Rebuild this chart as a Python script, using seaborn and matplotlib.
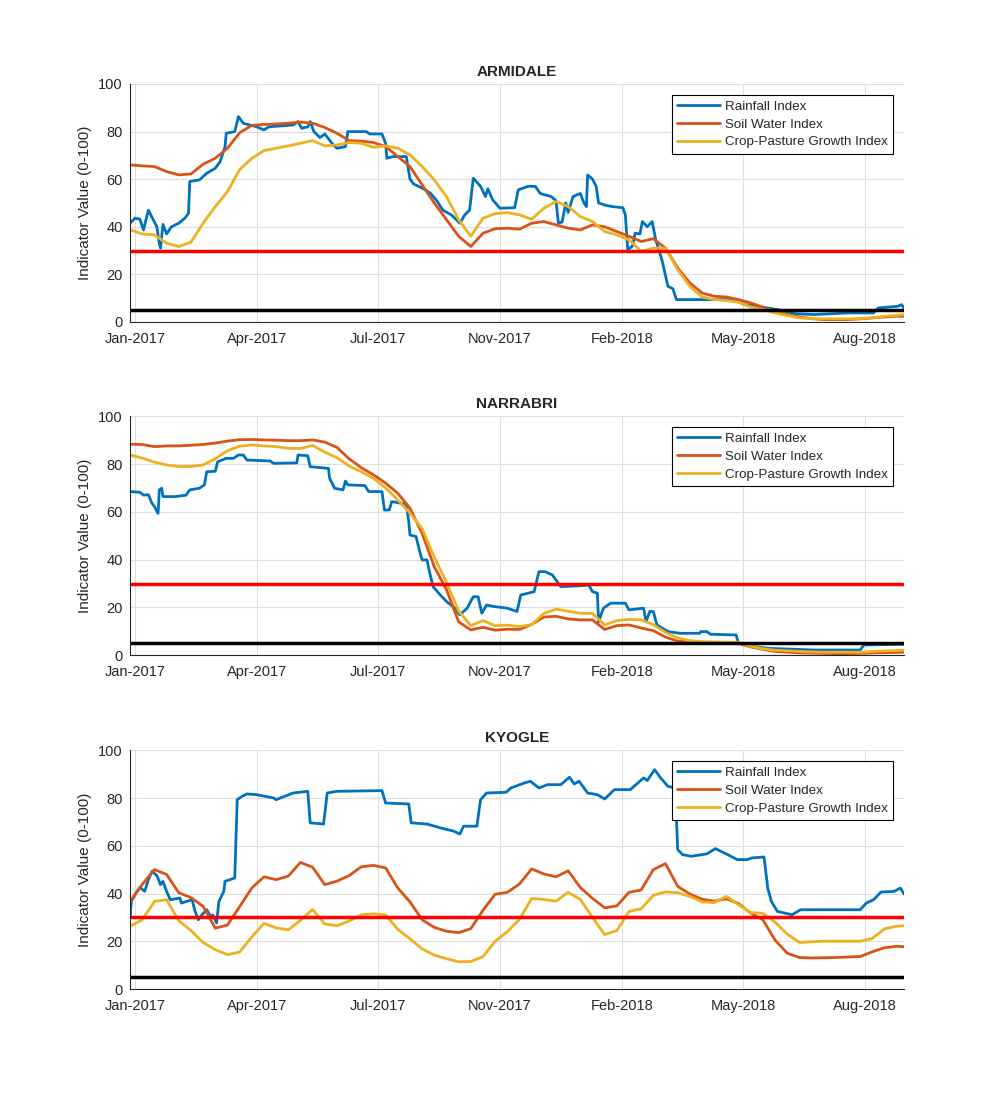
import numpy as np
import pandas as pd
import matplotlib
matplotlib.use("Agg")
import matplotlib.pyplot as plt
import matplotlib.dates as mdates
import seaborn as sns

sns.set_style("white")
plt.rcParams["font.family"] = ["Liberation Sans", "DejaVu Sans"]

start = pd.Timestamp("2017-01-01")

# smooth indices sampled every 10 days (days since 1 Jan 2017), last point = day 636
grid_days = list(np.arange(0, 631, 10)) + [636]

arm_soil = [66, 65.6, 65.3, 63.2, 61.8, 62.2, 66.3, 68.8, 73, 79.5,
            82.6, 83, 83.2, 83.5, 84, 83.5, 81.7, 79.3, 76.2, 76,
            75.4, 73.7, 69.5, 65.3, 57.6, 50, 43, 36, 31.7, 37.3,
            39.2, 39.4, 39, 41.5, 42.2, 40.8, 39.4, 38.7, 40.8, 40,
            38, 36, 33.8, 35, 31, 22.7, 16.4, 12.2, 10.8, 10.5,
            9.4, 8, 6.2, 4.5, 3.1, 2.1, 1.4, 1, 1, 1,
            1.3, 1.7, 2.1, 2.4, 2.4]
arm_grow = [38.7, 37, 36.6, 33.1, 31.7, 33.5, 41.5, 48.5, 54.8, 64,
            68.8, 72, 73, 74, 75.1, 76.2, 74, 74.4, 75.4, 75.1,
            73.4, 74, 73, 70.2, 65.3, 59.7, 52.7, 43, 36, 43.6,
            45.5, 46, 45, 43.2, 47.8, 50.6, 48.5, 44.3, 42.2, 38,
            36.6, 34.5, 29.7, 31, 31, 22, 15, 10.5, 9.4, 9,
            8.3, 6.3, 5.2, 3.8, 2.7, 1.7, 1.4, 1.3, 1.3, 1.3,
            1.4, 1.8, 2.4, 2.8, 3.1]
nar_soil = [88.3, 88.2, 87.3, 87.6, 87.6, 87.9, 88.2, 88.8, 89.6, 90.2,
            90.3, 90.1, 90, 89.8, 89.8, 90.1, 89.2, 87, 82.2, 78.5,
            75.5, 72, 67.8, 61.5, 51, 37, 27.5, 14, 10.6, 11.7,
            10.5, 10.9, 10.8, 12.9, 16, 16.3, 15.2, 14.8, 14.8, 10.8,
            12.4, 12.7, 11.4, 10.3, 7.6, 5.9, 5.6, 5.4, 5.3, 5.2,
            5, 3.5, 2.5, 1.6, 1.3, 1, 0.9, 0.8, 0.7, 0.7,
            0.8, 1, 1.1, 1.2, 1.3]
nar_grow = [83.8, 82.5, 80.8, 79.6, 79, 79, 79.6, 82.2, 85.6, 87.5,
            88, 87.6, 87.3, 86.6, 86.5, 87.8, 85, 82.7, 79.2, 76.8,
            74, 70, 65, 59.5, 53, 41, 30.5, 18.5, 12.4, 14.5,
            12.4, 12.6, 12, 12.8, 17.5, 19.3, 18.4, 17.6, 17.5, 12.7,
            14.5, 15, 14.8, 12.8, 9.5, 7.3, 6.1, 5.7, 5.6, 5.5,
            5.4, 3.8, 2.7, 2.1, 1.9, 1.6, 1.4, 1.3, 1.3, 1.3,
            1.3, 1.6, 1.8, 2, 2.1]
kyo_soil = [36.7, 43.8, 50, 48, 40.3, 38.3, 34.6, 25.5, 26.8, 34.5,
            42.3, 47, 45.8, 47.3, 53, 51, 43.7, 45.2, 47.5, 51.2,
            51.8, 50.7, 42.3, 36.5, 29, 25.8, 24.2, 23.6, 25.3, 33,
            39.7, 40.5, 44, 50.3, 48.2, 47, 49.5, 42.5, 38, 34,
            34.8, 40.5, 41.5, 50, 52.5, 43, 39.8, 37.6, 36.8, 37.8,
            35.8, 31.8, 29, 20.5, 15, 13.2, 13, 13.1, 13.2, 13.4,
            13.6, 15.6, 17.3, 17.9, 17.7]
kyo_grow = [26.3, 29, 36.7, 37.4, 28.6, 24.5, 19.5, 16.5, 14.4, 15.5,
            21.8, 27.5, 25.6, 24.8, 28.8, 33.3, 27.2, 26.5, 28.5, 31.1,
            31.5, 31, 25, 21, 16.8, 14.2, 12.7, 11.4, 11.5, 13.6,
            20, 24, 29.2, 37.9, 37.5, 36.8, 40.5, 37.5, 30, 22.8,
            24.5, 32.5, 33.6, 39.2, 40.7, 40.3, 38.8, 36.5, 36.2, 38.8,
            35.3, 32, 31.7, 28, 23, 19.5, 19.8, 20, 20, 20,
            20, 21.2, 25.2, 26.3, 26.5]

# rainfall index is steppy: breakpoints (day, value)
arm_rain_day = [0, 4, 8, 11, 15, 18, 22, 24, 25, 27, 30, 34, 40, 45, 48, 49, 57, 63, 70, 74,
                78, 79, 86, 89, 93, 104, 110, 114, 134, 138, 141, 146, 148, 151, 156, 160, 166, 170, 177, 179,
                194, 197, 207, 210, 211, 216, 227, 230, 233, 241, 247, 252, 257, 264, 271, 275, 279, 282, 288, 292,
                294, 298, 304, 316, 319, 327, 333, 337, 346, 350, 352, 355, 358, 360, 364, 370, 373, 375, 376, 380,
                383, 385, 391, 396, 405, 407, 409, 413, 415, 419, 421, 425, 429, 432, 437, 442, 446, 449, 480, 496,
                505, 524, 535, 546, 562, 590, 611, 615, 631, 634, 636]
arm_rain = [41.5, 43.6, 43.2, 38.7, 47, 44, 40, 33, 31, 41, 37, 40, 41.5, 43.6, 45.7, 59, 59.7, 62.5, 64.6, 67.4,
            73.7, 79.3, 80, 86.3, 83.5, 82, 80.7, 82, 82.8, 84.2, 81.4, 82, 84.2, 80, 77.5, 79, 75, 73, 73.7, 80,
            80, 79, 79, 75, 68.8, 69.5, 69.5, 60, 58, 56, 54, 51, 47, 45, 41.5, 45, 47, 60.4, 57, 52.7,
            56, 51.3, 47.8, 48, 55.5, 57, 57, 54, 52.7, 51, 41.5, 42, 50, 46, 52.7, 54, 50, 48.5, 61.8, 60,
            57, 50, 49, 48.5, 48, 45, 30.3, 32, 37.3, 37, 42.2, 40, 42.2, 34.5, 26.2, 15, 14, 9.4, 9.4, 9.4,
            7.3, 5.9, 4.9, 3.5, 3.1, 3.8, 3.8, 5.9, 6.6, 7.3, 5.9]

nar_rain_day = [0, 8, 11, 15, 18, 20, 23, 24, 26, 27, 37, 46, 49, 57, 61, 63, 70, 72, 79, 85,
                89, 93, 96, 115, 118, 137, 138, 146, 148, 163, 164, 168, 175, 177, 179, 193, 196, 207, 209, 213,
                215, 227, 229, 230, 235, 238, 240, 244, 246, 249, 255, 260, 267, 271, 277, 282, 286, 289, 293, 299,
                310, 318, 321, 332, 336, 341, 347, 350, 354, 370, 377, 380, 384, 385, 389, 395, 407, 410, 422, 424,
                427, 430, 433, 442, 452, 468, 469, 474, 477, 498, 500, 513, 524, 562, 600, 603, 636]
nar_rain = [68.5, 68.2, 67, 67.2, 63.6, 62.2, 59.4, 69.2, 69.9, 66.4, 66.4, 67, 69.2, 69.9, 71.3, 76.8, 77, 81, 82.4, 82.4,
            83.8, 83.8, 81.7, 81.3, 80.3, 80.5, 83.8, 83.5, 78.9, 78.2, 74, 69.9, 69.2, 72.9, 71.3, 71, 68.5, 68.5, 60.8, 60.8,
            64.3, 63.2, 55.9, 50.3, 49.7, 43.4, 39.9, 39.9, 35, 28.7, 25.2, 22.5, 19.7, 16.9, 19.7, 24.5, 24.5, 17.6, 21, 20.4,
            19.7, 18.3, 25.2, 26.6, 35, 35, 33.6, 31.5, 28.7, 29.1, 29.4, 26.6, 26, 14, 19.7, 21.8, 21.8, 19, 19.7, 14,
            18.3, 18.3, 12.7, 9.9, 9.2, 9.2, 9.9, 9.9, 8.8, 8.5, 5, 3.6, 2.9, 2.2, 2.2, 4.3, 4.6]

kyo_rain_day = [0, 1, 4, 8, 12, 15, 18, 22, 25, 27, 30, 33, 41, 42, 51, 53, 56, 59, 63, 66,
                68, 71, 73, 77, 78, 86, 88, 92, 96, 104, 118, 120, 134, 146, 148, 159, 162, 170, 207, 210,
                229, 231, 244, 255, 266, 271, 274, 285, 288, 293, 309, 313, 324, 329, 336, 343, 354, 361, 365, 369,
                376, 384, 390, 398, 411, 422, 425, 431, 436, 442, 448, 450, 454, 461, 474, 481, 491, 499, 507, 511,
                521, 524, 527, 532, 544, 551, 600, 605, 611, 617, 628, 633, 636]
kyo_rain = [29.7, 36.7, 39.5, 42.6, 40.9, 45.8, 49.3, 47.5, 43.7, 45.1, 40.9, 37.4, 38.1, 36, 37.4, 33.2, 29, 31.1, 33.2, 30.4,
            31, 27.7, 36.7, 40.9, 45.1, 46.5, 79.3, 80.7, 81.7, 81.4, 80, 79.3, 82.1, 82.8, 69.6, 69.1, 82.1, 82.8, 83.1, 77.9,
            77.5, 69.6, 69.1, 67.5, 66.1, 64.9, 68.2, 68.2, 79.3, 82.1, 82.4, 84.2, 86.3, 87, 84.2, 85.6, 85.6, 88.7, 85.9, 87,
            82.1, 81.4, 79.6, 83.5, 83.5, 88.4, 87.3, 91.9, 88.4, 84.9, 84.2, 58.4, 56.3, 55.6, 56.6, 58.8, 56.3, 54.2, 54.2, 54.9,
            55.3, 42.3, 36.7, 32.5, 31.1, 33.2, 33.2, 36, 37.4, 40.6, 40.9, 42.3, 39.8]

sites = ["ARMIDALE", "NARRABRI", "KYOGLE"]
rain_days = [arm_rain_day, nar_rain_day, kyo_rain_day]
rain_vals = [arm_rain, nar_rain, kyo_rain]
soil_vals = [arm_soil, nar_soil, kyo_soil]
grow_vals = [arm_grow, nar_grow, kyo_grow]

labels = ["Rainfall Index", "Soil Water Index", "Crop-Pasture Growth Index"]
colors = ["#0072BD", "#D95319", "#EDB120"]
tick_days = [4, 104, 204, 304, 404, 504, 604]


def to_dates(days):
    return start + pd.to_timedelta(np.array(days, dtype=float), unit="D")


fig = plt.figure(figsize=(10, 11.11), dpi=100)
axes_pos = [[0.1295, 0.7102, 0.7745, 0.2142],
            [0.1295, 0.4102, 0.7745, 0.2151],
            [0.1295, 0.1098, 0.7745, 0.2149]]
dark = "#262626"

for i, site in enumerate(sites):
    ax = fig.add_axes(axes_pos[i])
    series = [(rain_days[i], rain_vals[i]), (grid_days, soil_vals[i]), (grid_days, grow_vals[i])]
    for (d, v), lab, col in zip(series, labels, colors):
        sns.lineplot(x=to_dates(d), y=v, ax=ax, color=col, lw=2, label=lab, estimator=None)
    handles, labs = ax.get_legend_handles_labels()
    ax.axhline(30, color="red", lw=2.5)
    ax.axhline(5, color="black", lw=2.5)

    ax.set_ylim(0, 100)
    ax.set_yticks([0, 20, 40, 60, 80, 100])
    ax.set_xlim(to_dates([-0.5])[0], to_dates([636])[0])
    ax.set_xticks(to_dates(tick_days))
    ax.xaxis.set_major_formatter(mdates.DateFormatter("%b-%Y"))
    ax.grid(True, color="#dedede", lw=0.8)
    ax.set_axisbelow(True)
    for s in ["top", "right"]:
        ax.spines[s].set_visible(False)
    for s in ["left", "bottom"]:
        ax.spines[s].set_color(dark)
        ax.spines[s].set_linewidth(0.8)
    ax.tick_params(axis="both", direction="in", length=5, width=0.8, colors=dark, labelsize=10.5)
    ax.tick_params(axis="x", pad=7)
    ax.tick_params(axis="y", pad=5)
    ax.set_xlabel("")
    ax.set_ylabel("Indicator Value (0-100)", fontsize=11, color=dark)
    ax.set_title(site, fontsize=11, fontweight="bold", pad=6)

    leg = ax.legend(handles[:3], labs[:3], loc="upper right", bbox_to_anchor=(0.986, 0.954),
                    borderaxespad=0, fontsize=9.6, frameon=True, fancybox=False, framealpha=1,
                    edgecolor="black", handlelength=3.2, handletextpad=0.4, labelspacing=0.42,
                    borderpad=0.4)
    leg.get_frame().set_linewidth(0.8)

fig.savefig("out.png", dpi=100, facecolor="white")
